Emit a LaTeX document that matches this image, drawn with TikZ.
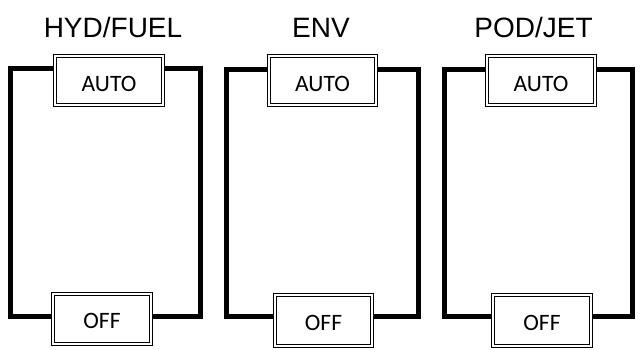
\documentclass[tikz,border=0pt]{standalone}
\usepackage{fontspec}
\setmainfont{Liberation Sans}
\newfontfamily\btnfont{Carlito}
\begin{document}
\begin{tikzpicture}[x=1pt,y=-1pt,
  frame/.style={line width=5pt, line join=miter},
  title/.style={font=\fontsize{28}{32}\selectfont, anchor=base, inner sep=0pt},
  btn/.style={draw=black, line width=1pt, double=white, double distance=2pt,
    fill=white, inner sep=0pt, font=\btnfont\fontsize{23.5}{27}\selectfont, text depth=0pt},
  autobtn/.style={btn, minimum width=108pt, minimum height=49pt, text height=22.5pt},
  offbtn/.style={btn, minimum width=98pt, minimum height=51pt, text height=20.5pt}]
\useasboundingbox (0,0) rectangle (641,349);
\fill[white] (0,0) rectangle (641,349);

% titles
\node[title] (t1) at (113,37.7) {HYD/FUEL};
\node[title] (t2) at (321,37.7) {ENV};
\node[title] (t3) at (533.5,37.7) {POD/JET};

% corner coordinates
\coordinate (tl1) at (10,68.5);   \coordinate (tr1) at (200.5,68.5);
\coordinate (bl1) at (10,316);    \coordinate (br1) at (200.5,316);
\coordinate (tl2) at (226,69);    \coordinate (tr2) at (418,69);
\coordinate (bl2) at (226,316);   \coordinate (br2) at (418,316);
\coordinate (tl3) at (444.5,69);  \coordinate (tr3) at (632.5,69);
\coordinate (bl3) at (444.5,316); \coordinate (br3) at (632.5,316);

% button positions (centres)
\coordinate (pa1) at (109,80.5);   \coordinate (po1) at (102,318.5);
\coordinate (pa2) at (322.5,80.5); \coordinate (po2) at (323.5,320.5);
\coordinate (pa3) at (541,80.5);   \coordinate (po3) at (542,320.5);

% frames
\foreach \i in {1,2,3}{
  \draw[frame] (pa\i) -- (pa\i |- tl\i) -- (tl\i) -- (bl\i) -- (po\i |- bl\i) -- (po\i);
  \draw[frame] (pa\i) -- (pa\i |- tr\i) -- (tr\i) -- (br\i) -- (po\i |- br\i) -- (po\i);
}

% buttons
\node[autobtn] (auto1) at (pa1) {AUTO};
\node[autobtn, minimum width=107pt] (auto2) at (pa2) {AUTO};
\node[autobtn] (auto3) at (pa3) {AUTO};
\node[offbtn, minimum height=50pt] (off1) at (po1) {OFF};
\node[offbtn, minimum width=97pt] (off2) at (po2) {OFF};
\node[offbtn] (off3) at (po3) {OFF};
\end{tikzpicture}
\end{document}
